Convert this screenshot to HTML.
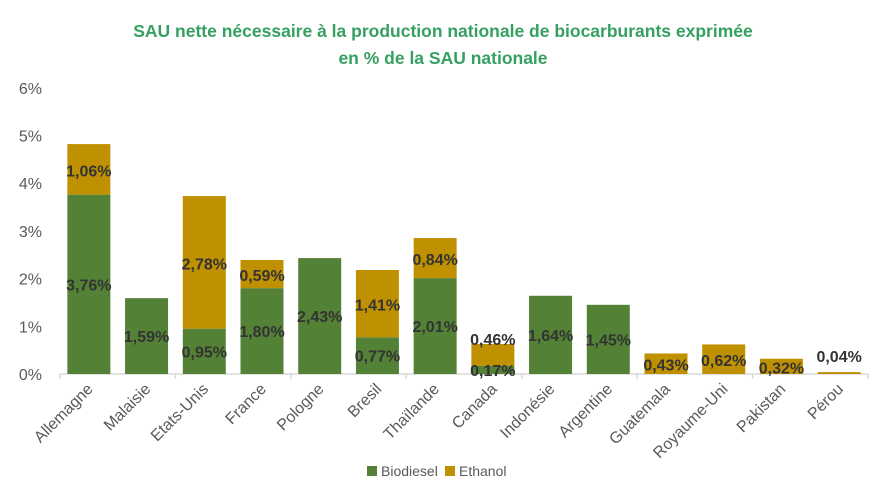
<!DOCTYPE html>
<html><head><meta charset="utf-8"><style>
body{margin:0;background:#fff;font-family:"Liberation Sans",Arial,sans-serif}
</style></head><body>
<svg width="886" height="491" xmlns="http://www.w3.org/2000/svg">
<text x="443" y="37" text-anchor="middle" font-size="17.5" font-weight="bold" fill="#35a060">SAU nette nécessaire à la production nationale de biocarburants exprimée</text>
<text x="443" y="64" text-anchor="middle" font-size="17.5" font-weight="bold" fill="#35a060">en % de la SAU nationale</text>
<g id="plot"></g>
<g>
<rect x="367" y="466" width="10" height="10" fill="#538135"/>
<text x="381" y="476" font-size="14" fill="#595959">Biodiesel</text>
<rect x="445" y="466" width="10" height="10" fill="#bf9000"/>
<text x="459" y="476" font-size="14" fill="#595959">Ethanol</text>
</g>
</svg>
<script>
const categories=["Allemagne","Malaisie","Etats-Unis","France","Pologne","Bresil","Thaïlande","Canada","Indonésie","Argentine","Guatemala","Royaume-Uni","Pakistan","Pérou"];
const biodiesel=[3.76,1.59,0.95,1.80,2.43,0.77,2.01,0.17,1.64,1.45,0,0,0,0];
const ethanol=[1.06,0,2.78,0.59,0,1.41,0.84,0.46,0,0,0.43,0.62,0.32,0.04];
const yTicks=[0,1,2,3,4,5,6];
const NS="http://www.w3.org/2000/svg";
const g=document.getElementById('plot');
const x0=60,x1=868,y0=374,pxPer=47.7;
const bw=(x1-x0)/categories.length, barW=43;
const y=v=>y0-v*pxPer;
const cx=i=>x0+bw*(i+0.5);
function mk(t,a){const e=document.createElementNS(NS,t);for(const k in a)e.setAttribute(k,a[k]);g.appendChild(e);return e;}
yTicks.forEach(t=>{const e=mk('text',{x:42,y:y(t)+6,'text-anchor':'end','font-size':16,fill:'#595959'});e.textContent=t+'%';

});
const ax=mk('line',{x1:x0,x2:x1,y1:y0,y2:y0,stroke:'#d9d9d9','stroke-width':1.5});


for(let i=0;i<=categories.length;i+=2){const t=mk('line',{x1:x0+bw*i,x2:x0+bw*i,y1:y0,y2:y0+5,stroke:'#d9d9d9','stroke-width':1.5});

}
const fmt=v=>v.toFixed(2).replace('.',',')+'%';
categories.forEach((c,i)=>{
  const b=biodiesel[i],e=ethanol[i];
  if(b>0){const r=mk('rect',{x:cx(i)-barW/2,y:y(b),width:barW,height:b*pxPer,fill:'#538135'});
    
    }
  if(e>0){const r=mk('rect',{x:cx(i)-barW/2,y:y(b+e),width:barW,height:e*pxPer,fill:'#bf9000'});
    
    }
  if(b>0){const t=mk('text',{x:cx(i),y:Math.min(y(b/2)+6,y0+3),'text-anchor':'middle','font-size':16,'font-weight':'bold',fill:'#333'});t.textContent=fmt(b);
    
    }
  if(e>0){let ly=y(b+e/2)+7; if(e<0.1)ly=y(b+e)-10; if(b>0&&b<0.3)ly=y(b+e)+1;
    const t=mk('text',{x:cx(i),y:ly,'text-anchor':'middle','font-size':16,'font-weight':'bold',fill:'#333'});t.textContent=fmt(e);
    
    }
  const l=mk('text',{x:0,y:0,'text-anchor':'end','font-size':16,fill:'#595959',transform:`translate(${cx(i)+5},${y0+16}) rotate(-45)`});l.textContent=c;
  
  
});
</script>
</body></html>
